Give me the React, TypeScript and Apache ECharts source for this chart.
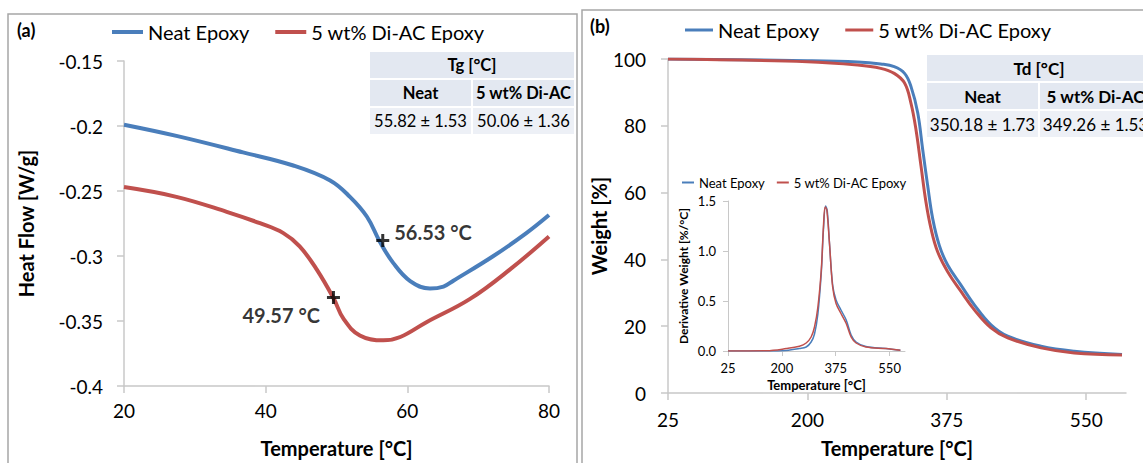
import React, { useEffect, useRef } from "react";
import * as echarts from "echarts";

// ---------- Data ----------
const seriesNames = ["Neat Epoxy", "5 wt% Di-AC Epoxy"];

// (a) DSC heat flow
const dscNeatTemp = [20, 27.4, 36.8, 43.9, 49.1, 51.9, 54.3, 56.1, 58.0, 60.4, 63.2, 65.1, 66.5, 72.1, 76.8, 80];
const dscNeatHeat = [-0.199, -0.2076, -0.2203, -0.2304, -0.2419, -0.2545, -0.2698, -0.2888, -0.3053, -0.3193, -0.325, -0.3235, -0.319, -0.3002, -0.2824, -0.2685];
const dscDiacTemp = [20, 27.4, 34.5, 39.2, 42.5, 44.8, 47.2, 49.6, 51.0, 53.3, 56.6, 59.0, 62.7, 68.8, 74.5, 80];
const dscDiacHeat = [-0.247, -0.2545, -0.266, -0.2748, -0.2824, -0.2926, -0.3103, -0.3327, -0.3484, -0.3611, -0.3649, -0.3623, -0.3509, -0.3332, -0.3103, -0.285];
const tgMarkTemp = [56.53, 49.57];
const tgMarkHeat = [-0.288, -0.332];

// (b) TGA weight
const tgaNeatTemp = [25, 200, 263, 292, 309, 322, 330, 338.5, 344.7, 351, 357.3, 365.6, 376.1, 392.8, 409.6, 430.5, 451.5, 493.3, 535, 595];
const tgaNeatWeight = [100, 99.5, 99.1, 98.5, 97.7, 95.7, 91.8, 83.9, 73.0, 62.1, 52.2, 44.2, 38.3, 32.3, 26.4, 20.4, 17.0, 14.0, 12.5, 11.5];
const tgaDiacTemp = [25, 200, 263, 292, 309, 322, 330, 336.3, 342.6, 348.9, 355.2, 363.5, 376.1, 392.8, 409.6, 430.5, 451.5, 493.3, 535, 595];
const tgaDiacWeight = [100, 99.2, 98.2, 97.2, 95.7, 92.8, 86.8, 78.9, 68.0, 57.1, 49.2, 42.3, 36.3, 30.4, 24.9, 19.5, 16.5, 13.5, 12.0, 11.4];

// (b) inset DTG
const dtgNeatTemp = [25, 150, 214, 257, 279, 295, 306, 317, 328, 335, 342, 347.5, 354.6, 365, 376, 392, 409, 425, 441, 473, 538, 585];
const dtgNeatDeriv = [0, 0, 0.005, 0.024, 0.04, 0.09, 0.17, 0.37, 0.78, 1.21, 1.45, 1.4, 1.08, 0.66, 0.51, 0.41, 0.31, 0.16, 0.09, 0.045, 0.024, 0.007];
const dtgDiacTemp = [25, 150, 214, 257, 279, 295, 306, 317, 328, 335, 340.6, 346, 354.6, 365, 376, 392, 409, 425, 441, 473, 538, 585];
const dtgDiacDeriv = [0, 0.003, 0.024, 0.047, 0.08, 0.14, 0.24, 0.44, 0.81, 1.24, 1.44, 1.41, 1.08, 0.64, 0.475, 0.375, 0.275, 0.14, 0.08, 0.04, 0.024, 0.007];

const tempTicks = [25, 200, 375, 550];

// tables
const tgTable = { title: "Tg [°C]", heads: ["Neat", "5 wt% Di-AC"], vals: ["55.82 ± 1.53", "50.06 ± 1.36"] };
const tdTable = { title: "Td [°C]", heads: ["Neat", "5 wt% Di-AC"], vals: ["350.18 ± 1.73", "349.26 ± 1.53"] };

// ---------- Styles ----------
const BLUE = "#4a7ebb";
const RED = "#c0504d";
const FONT = "Lato";
const AXIS_COLOR = "#c8c8c8";
const pair = (xs: number[], ys: number[]) => xs.map((x, i) => [x, ys[i]]);

function table(x: number, y: number, w1: number, w2: number, rh: number, fs: number, t: typeof tgTable) {
  const head = "#e3e8f1";
  const body = "#edf0f6";
  const els: any[] = [];
  const gap = 2;
  els.push({ type: "rect", shape: { x, y, width: w1 + w2 + gap, height: rh }, style: { fill: head } });
  els.push({ type: "rect", shape: { x, y: y + rh + gap, width: w1, height: rh }, style: { fill: head } });
  els.push({ type: "rect", shape: { x: x + w1 + gap, y: y + rh + gap, width: w2, height: rh }, style: { fill: head } });
  els.push({ type: "rect", shape: { x, y: y + 2 * (rh + gap), width: w1, height: rh }, style: { fill: body } });
  els.push({ type: "rect", shape: { x: x + w1 + gap, y: y + 2 * (rh + gap), width: w2, height: rh }, style: { fill: body } });
  const txt = (cx: number, cy: number, s: string, bold: boolean) => ({
    type: "text",
    x: cx,
    y: cy,
    style: { text: s, fill: "#000", font: `${bold ? "bold " : ""}${fs}px ${FONT}`, align: "center", verticalAlign: "middle" },
  });
  els.push(txt(x + (w1 + w2 + gap) / 2, y + rh / 2, t.title, true));
  els.push(txt(x + w1 / 2, y + rh + gap + rh / 2, t.heads[0], true));
  els.push(txt(x + w1 + gap + w2 / 2, y + rh + gap + rh / 2, t.heads[1], true));
  els.push(txt(x + w1 / 2, y + 2 * (rh + gap) + rh / 2, t.vals[0], false));
  els.push(txt(x + w1 + gap + w2 / 2, y + 2 * (rh + gap) + rh / 2, t.vals[1], false));
  return els;
}

export default function App() {
  const ref = useRef<HTMLDivElement>(null);
  useEffect(() => {
    if (!ref.current) return;
    const chart = echarts.init(ref.current, undefined, { renderer: "svg" });

    const axisCommon = {
      axisLine: { show: true, lineStyle: { color: AXIS_COLOR, width: 1.5 } },
      axisTick: { show: true, length: 7, lineStyle: { color: AXIS_COLOR, width: 1.5 } },
      splitLine: { show: false },
    };
    const titleStyle = (size: number) => ({ fontFamily: FONT, fontWeight: "bold" as const, fontSize: size, color: "#000" });

    const plus = "path://M5,0H8V5H13V8H8V13H5V8H0V5H5Z";

    const lineSeries = (name: string, axis: number, data: number[][], color: string, width: number, smooth: number) => ({
      name, type: "line", xAxisIndex: axis, yAxisIndex: axis, data,
      showSymbol: false, smooth, lineStyle: { color, width }, itemStyle: { color },
    });

    const option: any = {
      animation: false,
      backgroundColor: "#fff",
      textStyle: { fontFamily: FONT },
      legend: [
        {
          left: 107, top: 17, itemWidth: 31, itemHeight: 4, itemGap: 26, icon: "rect",
          textStyle: { fontSize: 20, fontFamily: FONT, color: "#000" }, data: seriesNames, selectedMode: false,
        },
        {
          left: 680, top: 15, itemWidth: 28, itemHeight: 3, itemGap: 26, icon: "rect",
          textStyle: { fontSize: 20, fontFamily: FONT, color: "#000" }, data: seriesNames, selectedMode: false,
        },
        {
          left: 677, top: 171, itemWidth: 12, itemHeight: 2, itemGap: 12, icon: "rect",
          textStyle: { fontSize: 13, fontFamily: FONT, color: "#000" }, data: seriesNames, selectedMode: false,
        },
      ],
      grid: [
        { left: 124, top: 61, width: 425, height: 327 },
        { left: 668, top: 59, width: 458, height: 337 },
        { left: 728, top: 201, width: 177, height: 150 },
      ],
      xAxis: [
        {
          gridIndex: 0, type: "value", min: 20, max: 80, interval: 20, ...axisCommon,
          axisLabel: { fontSize: 19, color: "#000", fontFamily: FONT, margin: 15 },
          name: "Temperature [°C]", nameLocation: "middle", nameGap: 52, nameTextStyle: titleStyle(20),
        },
        {
          gridIndex: 1, type: "value", min: 25, max: 600, ...axisCommon,
          axisTick: { ...axisCommon.axisTick, customValues: tempTicks },
          axisLabel: { fontSize: 19, color: "#000", fontFamily: FONT, margin: 17, customValues: tempTicks },
          name: "Temperature [°C]", nameLocation: "middle", nameGap: 45, nameTextStyle: titleStyle(20),
        },
        {
          gridIndex: 2, type: "value", min: 25, max: 600, ...axisCommon,
          axisLine: { show: true, lineStyle: { color: AXIS_COLOR, width: 1 } },
          axisTick: { show: true, length: 5, lineStyle: { color: AXIS_COLOR, width: 1 }, customValues: tempTicks },
          axisLabel: { fontSize: 13, color: "#000", fontFamily: FONT, margin: 10, customValues: tempTicks },
          name: "Temperature [°C]", nameLocation: "middle", nameGap: 27, nameTextStyle: titleStyle(13),
        },
      ],
      yAxis: [
        {
          gridIndex: 0, type: "value", min: -0.4, max: -0.15, interval: 0.05, ...axisCommon,
          axisLabel: { fontSize: 19, color: "#000", fontFamily: FONT, margin: 21 },
          name: "Heat Flow [W/g]", nameLocation: "middle", nameGap: 88, nameTextStyle: titleStyle(20),
        },
        {
          gridIndex: 1, type: "value", min: 0, max: 100, interval: 20, ...axisCommon,
          axisLabel: { fontSize: 19, color: "#000", fontFamily: FONT, margin: 22 },
          name: "Weight [%]", nameLocation: "middle", nameGap: 57, nameTextStyle: titleStyle(20),
        },
        {
          gridIndex: 2, type: "value", min: 0, max: 1.5, interval: 0.5, ...axisCommon,
          axisLine: { show: true, lineStyle: { color: AXIS_COLOR, width: 1 } },
          axisTick: { show: true, length: 5, lineStyle: { color: AXIS_COLOR, width: 1 } },
          axisLabel: { fontSize: 13, color: "#000", fontFamily: FONT, margin: 12, formatter: (v: number) => v.toFixed(1) },
          name: "Derivative Weight [%/°C]", nameLocation: "middle", nameGap: 39, nameTextStyle: titleStyle(12),
        },
      ],
      series: [
        lineSeries(seriesNames[0], 0, pair(dscNeatTemp, dscNeatHeat), BLUE, 4, 0.4),
        lineSeries(seriesNames[1], 0, pair(dscDiacTemp, dscDiacHeat), RED, 4, 0.4),
        {
          name: "Tg", type: "scatter", xAxisIndex: 0, yAxisIndex: 0, symbol: plus, symbolSize: 13,
          itemStyle: { color: "#000" }, z: 5,
          label: {
            show: true, fontSize: 20, fontWeight: "bold", fontFamily: FONT, color: "#000",
            formatter: (p: any) => `${p.value[0].toFixed(2)} °C`,
          },
          data: [
            { value: [tgMarkTemp[0], tgMarkHeat[0]], label: { position: "right", offset: [0, -8] } },
            { value: [tgMarkTemp[1], tgMarkHeat[1]], label: { position: "left", offset: [-2, 17] } },
          ],
        },
        lineSeries(seriesNames[0], 1, pair(tgaNeatTemp, tgaNeatWeight), BLUE, 3, 0.4),
        lineSeries(seriesNames[1], 1, pair(tgaDiacTemp, tgaDiacWeight), RED, 3, 0.4),
        lineSeries(seriesNames[0], 2, pair(dtgNeatTemp, dtgNeatDeriv), BLUE, 1.5, 0.35),
        lineSeries(seriesNames[1], 2, pair(dtgDiacTemp, dtgDiacDeriv), RED, 1.5, 0.35),
      ],
      graphic: [
        { type: "rect", shape: { x: 8, y: 14, width: 569, height: 470 }, style: { fill: "none", stroke: "#a6a6a6", lineWidth: 1.5 }, silent: true },
        { type: "rect", shape: { x: 582, y: 10, width: 600, height: 470 }, style: { fill: "none", stroke: "#a6a6a6", lineWidth: 1.5 }, silent: true },
        { type: "text", x: 17, y: 30, style: { text: "(a)", font: `bold 18px ${FONT}`, fill: "#000", verticalAlign: "middle" } },
        { type: "text", x: 590, y: 26, style: { text: "(b)", font: `bold 18px ${FONT}`, fill: "#000", verticalAlign: "middle" } },
        ...table(370, 52, 101, 101, 26, 16.5, tgTable),
        ...table(927, 55, 111, 111, 26, 17, tdTable),
      ],
    };
    chart.setOption(option);
    return () => chart.dispose();
  }, []);
  return <div ref={ref} style={{ position: "fixed", left: 0, top: 0, width: 1143, height: 463, background: "#fff" }} />;
}
